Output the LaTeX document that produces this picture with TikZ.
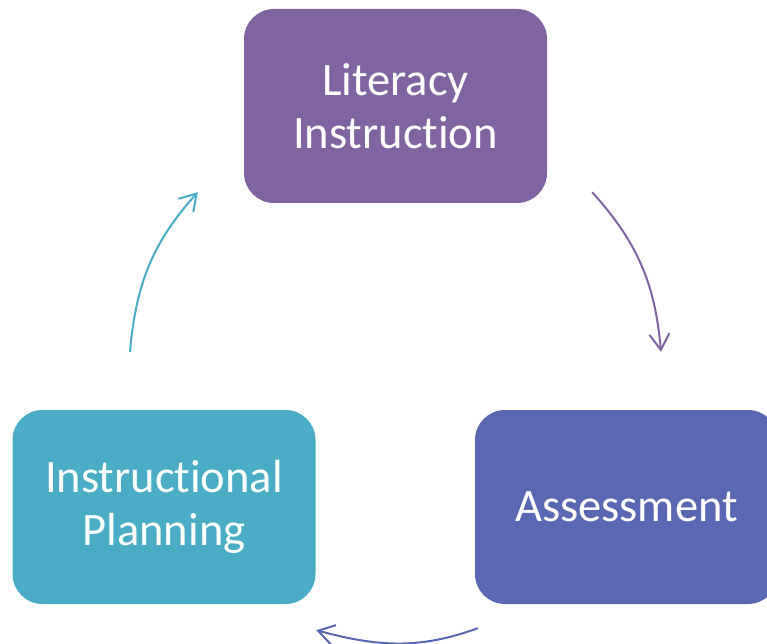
\documentclass[tikz,border=0pt]{standalone}
\usepackage{fontspec}
\setmainfont[Ligatures=NoCommon,Contextuals=NoAlternate]{Carlito}
\usetikzlibrary{arrows.meta,calc}

\definecolor{litpurple}{HTML}{8064A2}
\definecolor{assessblue}{HTML}{5A67B2}
\definecolor{planteal}{HTML}{4BACC6}

\tikzset{
  cyclebox/.style={rounded corners=30pt, minimum width=303pt, minimum height=194pt,
    inner sep=0pt, align=center, text=white, font=\fontsize{46.5}{53}\selectfont},
  cyclearrow/.style={line width=2pt, -{Straight Barb[length=16pt,width=20pt]}}
}

\begin{document}
\begin{tikzpicture}[x=1pt,y=1pt]
\useasboundingbox (0,0) rectangle (767,643);
\clip (0,0) rectangle (767,643);
\node (lit) [cyclebox, fill=litpurple, at={(395.5,537)}] {Literacy\\Instruction};
\node (assess) [cyclebox, fill=assessblue, at={(626.5,136)}] {Assessment};
\node (plan) [cyclebox, fill=planteal, at={(164,136)}] {Instructional\\Planning};
% arrow ends, kept off the boxes
\coordinate (litout) at ($(lit.south east)+(45,11)$);
\coordinate (assessin) at ($(assess.north)+(34.5,58)$);
\coordinate (assessout) at ($(assess.south west)+(3,-24)$);
\coordinate (planin) at ($(plan.south east)+(0.5,-26)$);
\coordinate (planout) at ($(plan.north)+(-34,58)$);
\coordinate (litin) at ($(lit.south west)+(-46,11)$);
\draw[cyclearrow, litpurple] (litout) to[out=-48, in=95] (assessin);
\draw[cyclearrow, assessblue] (assessout) to[out=200, in=-15] (planin);
\draw[cyclearrow, planteal] (planout) to[out=85, in=-132] (litin);
\end{tikzpicture}
\end{document}
